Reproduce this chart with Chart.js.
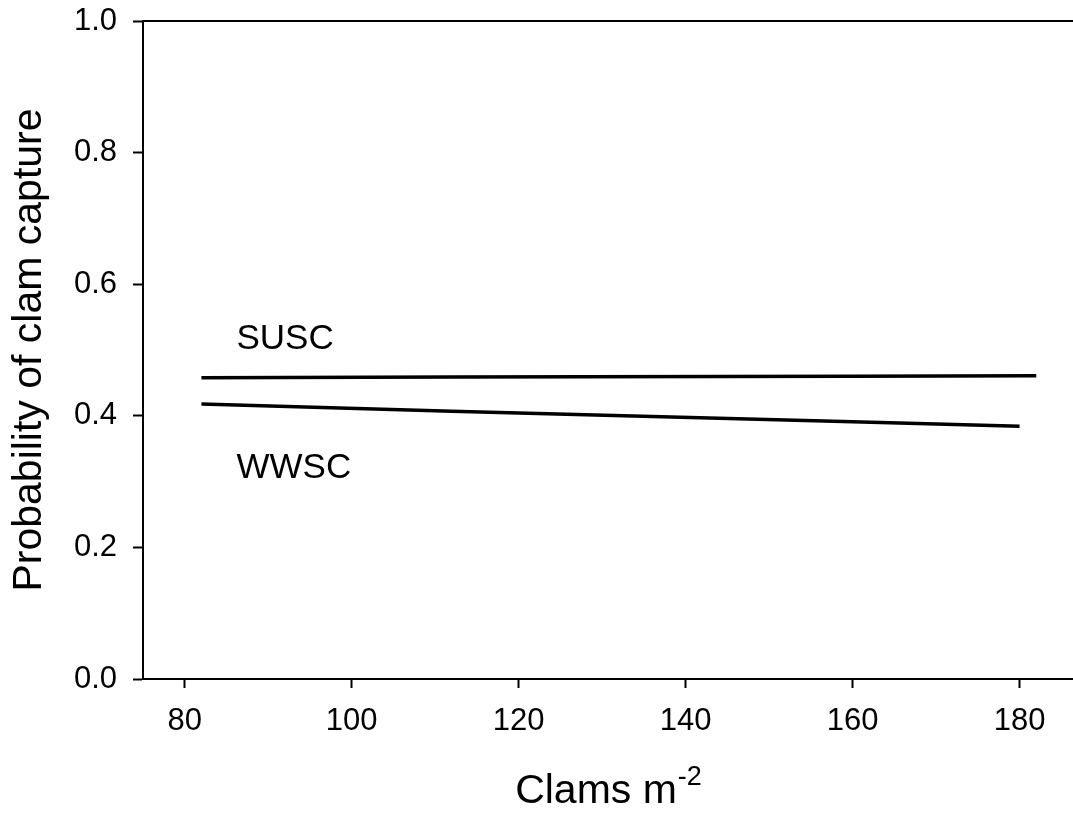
<!DOCTYPE html>
<html lang="en">

<head>
  <meta charset="UTF-8">
  <title>Probability of clam capture</title>
  <script src="https://cdn.jsdelivr.net/npm/chart.js"></script>
  <style>
    html, body { margin: 0; padding: 0; background: #fff; }
    .chart-box { position: relative; width: 1073px; height: 813px; }
  </style>
</head>

<body>
  <div class="chart-box"><canvas id="capture-chart"></canvas></div>

  <script>
    // fitted capture probability vs clam density, two sites
    const susDensity = [82, 112, 160, 182]
    const susProb = [0.458, 0.459, 0.460, 0.461]
    const wwDensity = [82, 112, 160, 180]
    const wwProb = [0.418, 0.407, 0.391, 0.384]
    const siteNames = ['SUSC', 'WWSC']
    const xTicks = [80, 100, 120, 140, 160, 180]
    const yTicks = [0.0, 0.2, 0.4, 0.6, 0.8, 1.0]

    const FONT = '"Liberation Sans", Arial, Helvetica, sans-serif'

    const toPoints = (xs, ys) => xs.map((x, i) => ({ x: x, y: ys[i] }))

    // site names written beside the curves, plus the x title with superscript and the top frame line
    const extras = {
      id: 'extras',
      afterDraw (chart) {
        const ctx = chart.ctx
        const xs = chart.scales.x
        const ys = chart.scales.y
        const area = chart.chartArea
        ctx.save()

        ctx.strokeStyle = '#000'
        ctx.lineWidth = 2
        ctx.beginPath()
        ctx.moveTo(area.left, area.top)
        ctx.lineTo(area.right, area.top)
        ctx.stroke()

        ctx.fillStyle = '#000'
        ctx.textBaseline = 'alphabetic'
        ctx.textAlign = 'left'
        ctx.font = '35px ' + FONT
        const anchors = [[86.2, 0.502], [86.2, 0.305]]
        siteNames.forEach((name, i) => {
          ctx.fillText(name, xs.getPixelForValue(anchors[i][0]), ys.getPixelForValue(anchors[i][1]))
        })

        const main = 'Clams m'
        const sup = '-2'
        ctx.font = '41px ' + FONT
        const wMain = ctx.measureText(main).width
        ctx.font = '27px ' + FONT
        const wSup = ctx.measureText(sup).width
        const x0 = (area.left + area.right) / 2 - (wMain + wSup) / 2
        const base = chart.height - 10
        ctx.font = '41px ' + FONT
        ctx.fillText(main, x0, base)
        ctx.font = '27px ' + FONT
        ctx.fillText(sup, x0 + wMain + 1, base - 18)
        ctx.restore()
      }
    }

    new Chart(document.getElementById('capture-chart'), {
      type: 'line',
      data: {
        datasets: [
          { label: siteNames[0], data: toPoints(susDensity, susProb), borderColor: '#000', borderWidth: 3.5, pointRadius: 0, tension: 0, fill: false },
          { label: siteNames[1], data: toPoints(wwDensity, wwProb), borderColor: '#000', borderWidth: 3.5, pointRadius: 0, tension: 0, fill: false }
        ]
      },
      options: {
        responsive: true,
        maintainAspectRatio: false,
        animation: false,
        layout: { padding: { top: 21, left: 0, right: 0, bottom: 0 } },
        plugins: { legend: { display: false }, tooltip: { enabled: false } },
        scales: {
          x: {
            type: 'linear',
            min: 75,
            max: 186.4,
            afterBuildTicks: s => { s.ticks = xTicks.map(v => ({ value: v })) },
            afterFit: s => { s.height = 134; s.paddingLeft = 0; s.paddingRight = 0 },
            grid: { drawOnChartArea: false, drawTicks: true, tickLength: 9, tickColor: '#000', tickWidth: 2 },
            border: { display: true, color: '#000', width: 2 },
            ticks: { color: '#000', padding: 15, maxRotation: 0, font: { family: FONT, size: 31 } }
          },
          y: {
            type: 'linear',
            min: 0,
            max: 1,
            afterBuildTicks: s => { s.ticks = yTicks.map(v => ({ value: v })) },
            afterFit: s => { s.width = 143; s.paddingTop = 0; s.paddingBottom = 0 },
            grid: { drawOnChartArea: false, drawTicks: true, tickLength: 10, tickColor: '#000', tickWidth: 2 },
            border: { display: true, color: '#000', width: 2 },
            ticks: { color: '#000', padding: 16, font: { family: FONT, size: 31 }, callback: v => v.toFixed(1) },
            title: { display: true, text: 'Probability of clam capture', color: '#000', padding: { top: 5, bottom: 0 }, font: { family: FONT, size: 41 } }
          }
        }
      },
      plugins: [extras]
    })
  </script>
</body>

</html>
